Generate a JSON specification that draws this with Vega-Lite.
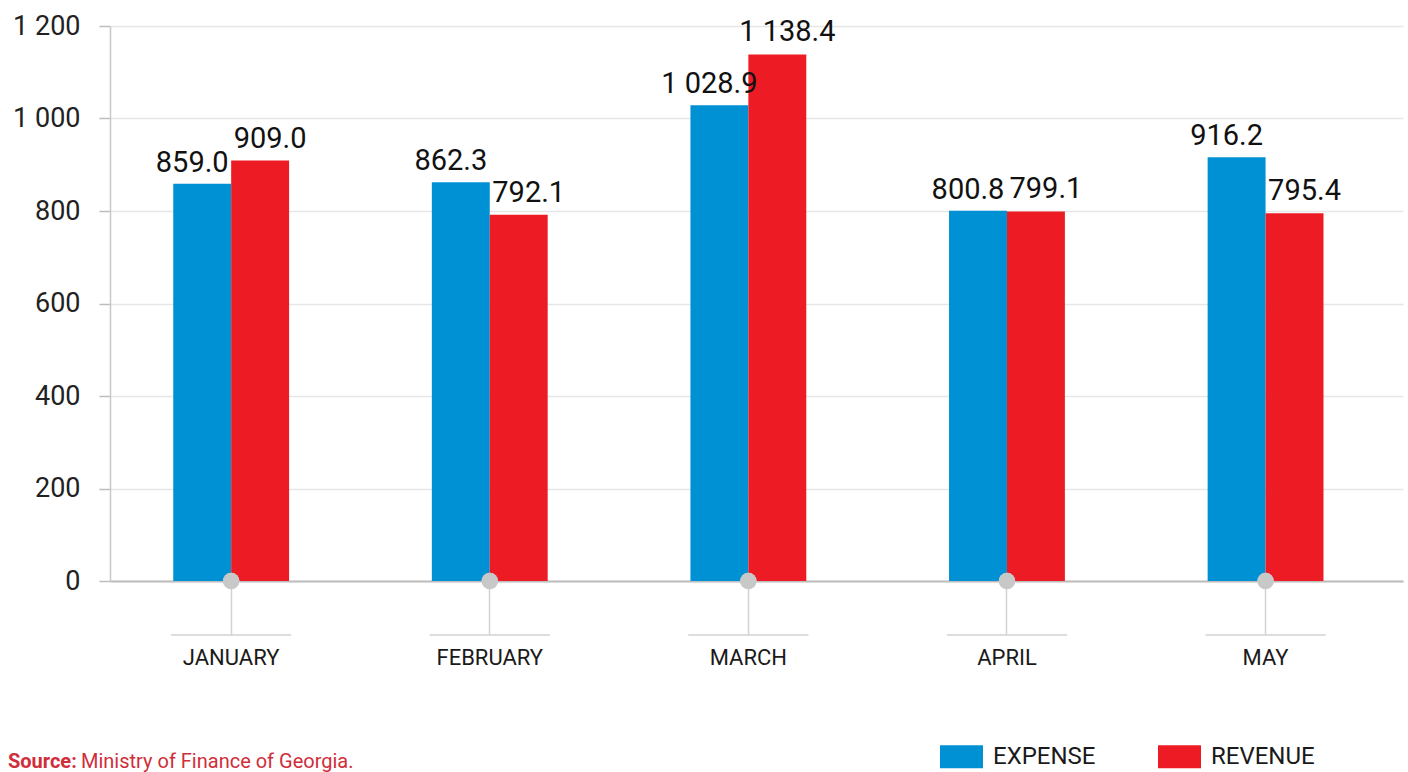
{
  "$schema": "https://vega.github.io/schema/vega-lite/v6.json",
  "width": 1293,
  "height": 555,
  "autosize": {"type": "none"},
  "padding": {"left": 110, "top": 26, "right": 5, "bottom": 191},
  "background": "white",
  "config": {
    "view": {"stroke": null},
    "locale": {"number": {"decimal": ".", "thousands": " ", "grouping": [3], "currency": ["", ""]}},
    "font": "Roboto"
  },
  "data": {
    "values": [
      {"month": "JANUARY", "series": "EXPENSE", "value": 859.0},
      {"month": "JANUARY", "series": "REVENUE", "value": 909.0},
      {"month": "FEBRUARY", "series": "EXPENSE", "value": 862.3},
      {"month": "FEBRUARY", "series": "REVENUE", "value": 792.1},
      {"month": "MARCH", "series": "EXPENSE", "value": 1028.9},
      {"month": "MARCH", "series": "REVENUE", "value": 1138.4},
      {"month": "APRIL", "series": "EXPENSE", "value": 800.8},
      {"month": "APRIL", "series": "REVENUE", "value": 799.1},
      {"month": "MAY", "series": "EXPENSE", "value": 916.2},
      {"month": "MAY", "series": "REVENUE", "value": 795.4}
    ]
  },
  "layer": [
    {
      "mark": {"type": "bar"},
      "encoding": {
        "x": {
          "field": "month", "type": "nominal", "sort": null,
          "scale": {"paddingInner": 0.552, "paddingOuter": 0.276, "align": 0.443},
          "axis": {
            "title": null, "labelAngle": 0, "labelFont": "Roboto", "labelFontSize": 22,
            "labelColor": "#1a1a1a", "labelPadding": 12, "tickSize": 54, "tickColor": "#d3d3d3",
            "tickWidth": 1.5, "domainColor": "#bdbdbd", "domainWidth": 2, "grid": false
          }
        },
        "xOffset": {"field": "series", "type": "nominal", "scale": {"paddingInner": 0, "paddingOuter": 0}},
        "y": {
          "field": "value", "type": "quantitative",
          "scale": {"domain": [0, 1200], "nice": false},
          "axis": {
            "title": null, "values": [0, 200, 400, 600, 800, 1000, 1200], "format": ",d",
            "labelFont": "Roboto", "labelFontSize": 27, "labelColor": "#222222", "labelPadding": 19,
            "tickSize": 11, "tickColor": "#bdbdbd", "tickWidth": 1.5,
            "domainColor": "#c8c8c8", "domainWidth": 1.5,
            "gridColor": "#e6e6e6", "gridWidth": 1.5
          }
        },
        "color": {
          "field": "series", "type": "nominal",
          "scale": {"domain": ["EXPENSE", "REVENUE"], "range": ["#0091D5", "#ED1C24"]},
          "legend": {
            "title": null, "orient": "none", "direction": "horizontal",
            "legendX": 830, "legendY": 709,
            "symbolType": "M-1,-0.535L1,-0.535L1,0.535L-1,0.535Z",
            "symbolSize": 1849, "symbolStrokeWidth": 0, "symbolOpacity": 1,
            "labelFont": "Roboto", "labelFontSize": 24, "labelColor": "#1a1a1a",
            "labelOffset": 10, "columnPadding": 62
          }
        }
      }
    },
    {
      "mark": {"type": "tick", "orient": "horizontal", "size": 120, "thickness": 1.5, "color": "#d3d3d3", "yOffset": 54},
      "encoding": {
        "x": {"field": "month", "type": "nominal", "sort": null},
        "y": {"datum": 0}
      }
    },
    {
      "mark": {"type": "point", "filled": true, "size": 270, "color": "#c8c8c8", "opacity": 1},
      "encoding": {
        "x": {"field": "month", "type": "nominal", "sort": null},
        "y": {"datum": 0}
      }
    },
    {
      "transform": [{"filter": "datum.series === 'EXPENSE'"}],
      "mark": {"type": "text", "font": "Roboto", "fontSize": 29, "color": "#111111", "baseline": "alphabetic", "dy": -12, "dx": -10},
      "encoding": {
        "x": {"field": "month", "type": "nominal", "sort": null},
        "xOffset": {"field": "series", "type": "nominal"},
        "y": {"field": "value", "type": "quantitative"},
        "text": {"field": "value", "type": "quantitative", "format": ",.1f"}
      }
    },
    {
      "transform": [{"filter": "datum.series === 'REVENUE'"}],
      "mark": {"type": "text", "font": "Roboto", "fontSize": 29, "color": "#111111", "baseline": "alphabetic", "dy": -13, "dx": 10},
      "encoding": {
        "x": {"field": "month", "type": "nominal", "sort": null},
        "xOffset": {"field": "series", "type": "nominal"},
        "y": {"field": "value", "type": "quantitative"},
        "text": {"field": "value", "type": "quantitative", "format": ",.1f"}
      }
    },
    {
      "data": {"values": [{"label": "Source:"}]},
      "mark": {"type": "text", "font": "Roboto", "fontSize": 20, "fontWeight": "bold", "color": "#cf2e3a", "align": "left", "baseline": "alphabetic"},
      "encoding": {
        "x": {"value": -102},
        "y": {"value": 742},
        "text": {"field": "label"}
      }
    },
    {
      "data": {"values": [{"label": "Ministry of Finance of Georgia."}]},
      "mark": {"type": "text", "font": "Roboto", "fontSize": 20, "color": "#cf2e3a", "align": "left", "baseline": "alphabetic"},
      "encoding": {
        "x": {"value": -29},
        "y": {"value": 742},
        "text": {"field": "label"}
      }
    }
  ]
}
